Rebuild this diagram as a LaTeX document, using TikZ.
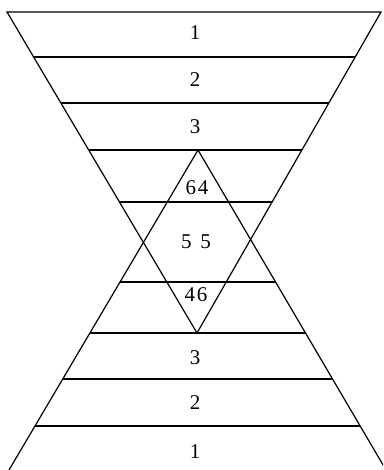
\documentclass[tikz,border=0pt]{standalone}
\usepackage{fontspec}
\setmainfont{Liberation Serif}
\usetikzlibrary{calc}
\begin{document}
\begin{tikzpicture}[x=1pt,y=-1pt,line width=1.2pt,
  lbl/.style={font=\fontsize{21}{21}\selectfont,inner sep=0pt,anchor=center}]
\useasboundingbox (0,0) rectangle (383,470);
\clip (0,0) rectangle (383,470);
% downward triangle
\coordinate (A) at (7,12);
\coordinate (B) at (381,12);
\coordinate (C) at (197,333);
% upward triangle
\coordinate (D) at (198,150);
\coordinate (E) at (9,470);
\coordinate (F) at (386,470);
\draw (C) -- (A) -- (B) -- cycle;
\draw (E) -- (D) -- (F);
% horizontal lines in the downward triangle
\foreach \t in {0.1402,0.2835,0.4299,0.5919}
  \draw ($(A)!\t!(C)$) -- ($(B)!\t!(C)$);
% horizontal lines in the upward triangle
\foreach \t in {0.4125,0.5719,0.7156,0.8625}
  \draw ($(D)!\t!(E)$) -- ($(D)!\t!(F)$);
% labels
\node[lbl] (t1) at (195,33) {1};
\node[lbl] (t2) at (195,80) {2};
\node[lbl] (t3) at (195,127) {3};
\node[lbl] (m1) at (197,188) {6\hspace{2pt}4};
\node[lbl] (m2) at (196,242) {5\hspace{9pt}5};
\node[lbl] (m3) at (196,295) {4\hspace{2pt}6};
\node[lbl] (b3) at (195,358) {3};
\node[lbl] (b2) at (195,403) {2};
\node[lbl] (b1) at (195,452) {1};
\end{tikzpicture}
\end{document}
